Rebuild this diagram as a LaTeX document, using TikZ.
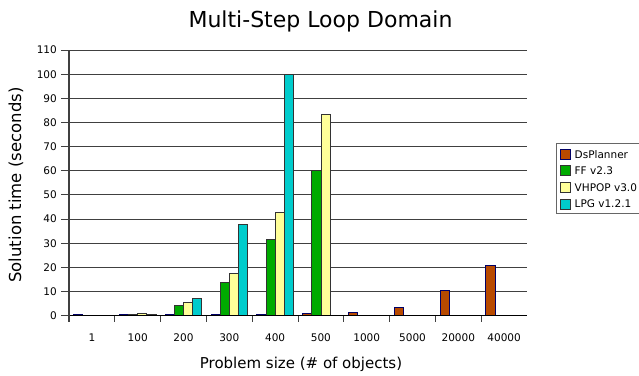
\documentclass[tikz,border=0pt]{standalone}
\usepackage{fontspec}
\setmainfont{DejaVu Sans}
\definecolor{cDs}{HTML}{B84A00}
\definecolor{cFF}{HTML}{00AA00}
\definecolor{cVH}{HTML}{FFFF99}
\definecolor{cLPG}{HTML}{00CCCC}
\definecolor{gridc}{HTML}{404040}
\tikzset{
  gridline/.style={draw=gridc, line width=1pt},
  axisline/.style={draw=gridc, line width=1.4pt},
  bar/.style={line width=0.8pt},
  dsbar/.style={bar, fill=cDs, draw=blue!40!black},
  ffbar/.style={bar, fill=cFF, draw=black!80},
  vhbar/.style={bar, fill=cVH, draw=black!80},
  lpgbar/.style={bar, fill=cLPG, draw=black!80},
  ticklab/.style={font=\fontsize{10.5}{12}\selectfont, inner sep=0pt},
  leglab/.style={font=\fontsize{10.5}{12}\selectfont, anchor=west, inner sep=0pt},
}
\begin{document}
\begin{tikzpicture}[x=1pt,y=-1pt]
\useasboundingbox (0,0) rectangle (639,375);
\fill[white] (0,0) rectangle (639,375);
\node[font=\fontsize{22}{26}\selectfont] (title) at (320.5,21) {Multi-Step Loop Domain};
\node[font=\fontsize{16.5}{19}\selectfont, rotate=90] (ylab) at (16,185) {Solution time (seconds)};
\node[font=\fontsize{15}{18}\selectfont] (xlab) at (301,364) {Problem size (\# of objects)};
\begin{scope}[shift={(69,315.7)}, x=45.8pt, y=2.415pt]
  % gridlines
  \foreach \v in {10,20,...,110} {
    \draw[gridline] (-8pt,\v) -- (10,\v);
    \node[ticklab, anchor=east] at (-12pt,\v) {\v};
  }
  \node[ticklab, anchor=east] at (-12pt,0) {0};
  \draw[gridline] (-8pt,0) -- (0,0);
  % bars
  \foreach \c/\ds/\ff/\vh/\lp [count=\i from 0] in
    {1/0.5/0/0/0, 100/0.5/0.6/1.0/0.6, 200/0.6/4.1/5.4/7,
     300/0.6/13.6/17.7/37.8, 400/0.6/31.8/42.7/100, 500/0.8/60/83.3/0,
     1000/1.2/0/0/0, 5000/3.6/0/0/0, 20000/10.4/0/0/0, 40000/21/0/0/0} {
    \ifdim\ds pt>0pt \draw[dsbar] (\i+0.1,0) rectangle (\i+0.3,\ds); \fi
    \ifdim\ff pt>0pt \draw[ffbar] (\i+0.3,0) rectangle (\i+0.5,\ff); \fi
    \ifdim\vh pt>0pt \draw[vhbar] (\i+0.5,0) rectangle (\i+0.7,\vh); \fi
    \ifdim\lp pt>0pt \draw[lpgbar] (\i+0.7,0) rectangle (\i+0.9,\lp); \fi
    \node[ticklab] at (\i+0.5,-8.9) {\c};
    \draw[gridc, line width=1pt] (\i,0) -- (\i,-2.6);
  }
  \draw[draw=black, line width=1pt] (0,0) -- (10,0);
  \draw[axisline] (0,-2.6) -- (0,110);
\end{scope}
% legend
\draw[draw=gray!80!black, line width=0.8pt, fill=white] (556.5,143.5) rectangle (645,213.5);
\foreach \n/\st/\lab/\yy in {a/dsbar/DsPlanner/154.2, b/ffbar/FF v2.3/170.8, c/vhbar/VHPOP v3.0/187.4, d/lpgbar/LPG v1.2.1/204} {
  \draw[\st] (560.5,\yy-5) rectangle (570.5,\yy+5);
  \node[leglab] (leg\n) at (574.5,\yy) {\lab};
}
\end{tikzpicture}
\end{document}
